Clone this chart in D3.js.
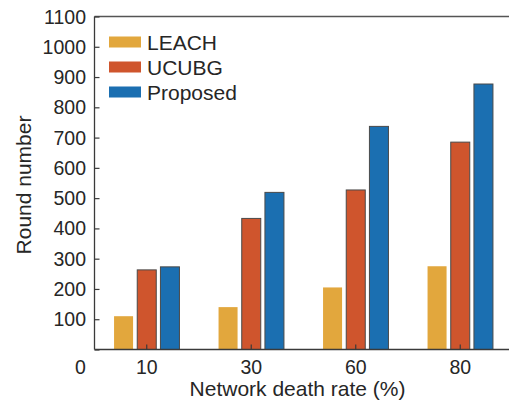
<!DOCTYPE html>
<html>
<head>
<meta charset="utf-8">
<script src="https://cdn.jsdelivr.net/npm/d3@7"></script>
<style>
    body { margin: 0; background: #fff; }
    text { font-family: "Liberation Sans", Arial, Helvetica, sans-serif; fill: #262626; }
</style>
</head>
<body>
<div id="chart"></div>
<script>

// -- data --

var categories = ["10", "30", "60", "80"];
var seriesNames = ["LEACH", "UCUBG", "Proposed"];
var leach = [110, 140, 205, 275];
var ucubg = [263, 433, 527, 685];
var proposed = [273, 519, 737, 877];
var yTicks = [0, 100, 200, 300, 400, 500, 600, 700, 800, 900, 1000, 1100];

var values = [leach, ucubg, proposed];
var colors = ["#E2A73D", "#CF552D", "#1B6FB1"];
var strokes = ["none", "#4a4a4a", "#4a4a4a"];

// -- layout --

var width = 509;
var height = 405;
// note: "top" is a reserved window global, hence the plot* names
var plotLeft = 94.5, plotRight = 512.5, plotTop = 16.5, plotBottom = 349.5;
var axisColor = "#3a3a3a";

var svg = d3.select("#chart").append("svg")
    .attr("width", width)
    .attr("height", height);

var x = d3.scaleBand()
    .domain(categories)
    .range([plotLeft, plotRight])
    .padding(0);

var sub = d3.scaleBand()
    .domain(seriesNames)
    .range([-32.7, 32.7])
    .paddingInner(0.18)
    .paddingOuter(0);

var y = d3.scaleLinear()
    .domain([0, 1100])
    .range([plotBottom, plotTop]);

// bars
seriesNames.forEach(function (name, s) {
    svg.append("g").selectAll("rect")
        .data(values[s])
        .enter().append("rect")
        .attr("x", function (d, i) { return x(categories[i]) + x.bandwidth() / 2 + sub(name); })
        .attr("y", function (d) { return y(d); })
        .attr("width", sub.bandwidth())
        .attr("height", function (d) { return plotBottom - y(d); })
        .style("fill", colors[s])
        .style("stroke", strokes[s])
        .style("stroke-width", 1);
});

// top border
svg.append("line")
    .attr("x1", plotLeft).attr("x2", width)
    .attr("y1", plotTop).attr("y2", plotTop)
    .style("stroke", "#555")
    .style("stroke-width", 1.3);

// y axis (ticks point inward)
var yAxis = svg.append("g")
    .attr("transform", "translate(" + plotLeft + ",0)")
    .call(d3.axisRight(y).tickValues(yTicks).tickSize(5).tickFormat(""));
yAxis.select(".domain").attr("d", "M0," + plotTop + "V" + plotBottom)
    .style("stroke", axisColor).style("stroke-width", 1.3);
yAxis.selectAll(".tick line").style("stroke", axisColor).style("stroke-width", 1.2);

// y tick labels, the 0 is pushed down to the x label row like in the original
svg.append("g").selectAll("text")
    .data(yTicks)
    .enter().append("text")
    .attr("x", function (d) { return d === 0 ? 80.5 : 86; })
    .attr("y", function (d) { return d === 0 ? 374 : y(d) + 7; })
    .attr("text-anchor", function (d) { return d === 0 ? "middle" : "end"; })
    .style("font-size", "19.5px")
    .text(function (d) { return d; });

// x axis (ticks point up)
var xAxis = svg.append("g")
    .attr("transform", "translate(0," + plotBottom + ")")
    .call(d3.axisTop(x).tickSize(5).tickFormat(""));
xAxis.select(".domain").attr("d", "M" + plotLeft + ",0H" + width)
    .style("stroke", axisColor).style("stroke-width", 1.3);
xAxis.selectAll(".tick line").style("stroke", axisColor).style("stroke-width", 1.2);

svg.append("g").selectAll("text")
    .data(categories)
    .enter().append("text")
    .attr("x", function (d) { return x(d) + x.bandwidth() / 2; })
    .attr("y", 374)
    .attr("text-anchor", "middle")
    .style("font-size", "19.5px")
    .text(function (d) { return d; });

// axis titles
svg.append("text")
    .attr("x", (plotLeft + plotRight) / 2 - 6)
    .attr("y", 396)
    .attr("text-anchor", "middle")
    .style("font-size", "21px")
    .text("Network death rate (%)");

svg.append("text")
    .attr("transform", "translate(31,185) rotate(-90)")
    .attr("text-anchor", "middle")
    .style("font-size", "21px")
    .text("Round number");

// legend
var legend = svg.append("g");
seriesNames.forEach(function (name, s) {
    var cy = 42 + s * 25;
    legend.append("rect")
        .attr("x", 109).attr("y", cy - 5.5)
        .attr("width", 32).attr("height", 11)
        .style("fill", colors[s]);
    legend.append("text")
        .attr("x", 147).attr("y", cy + 7.5)
        .style("font-size", "21px")
        .text(name);
});

</script>
</body>
</html>
